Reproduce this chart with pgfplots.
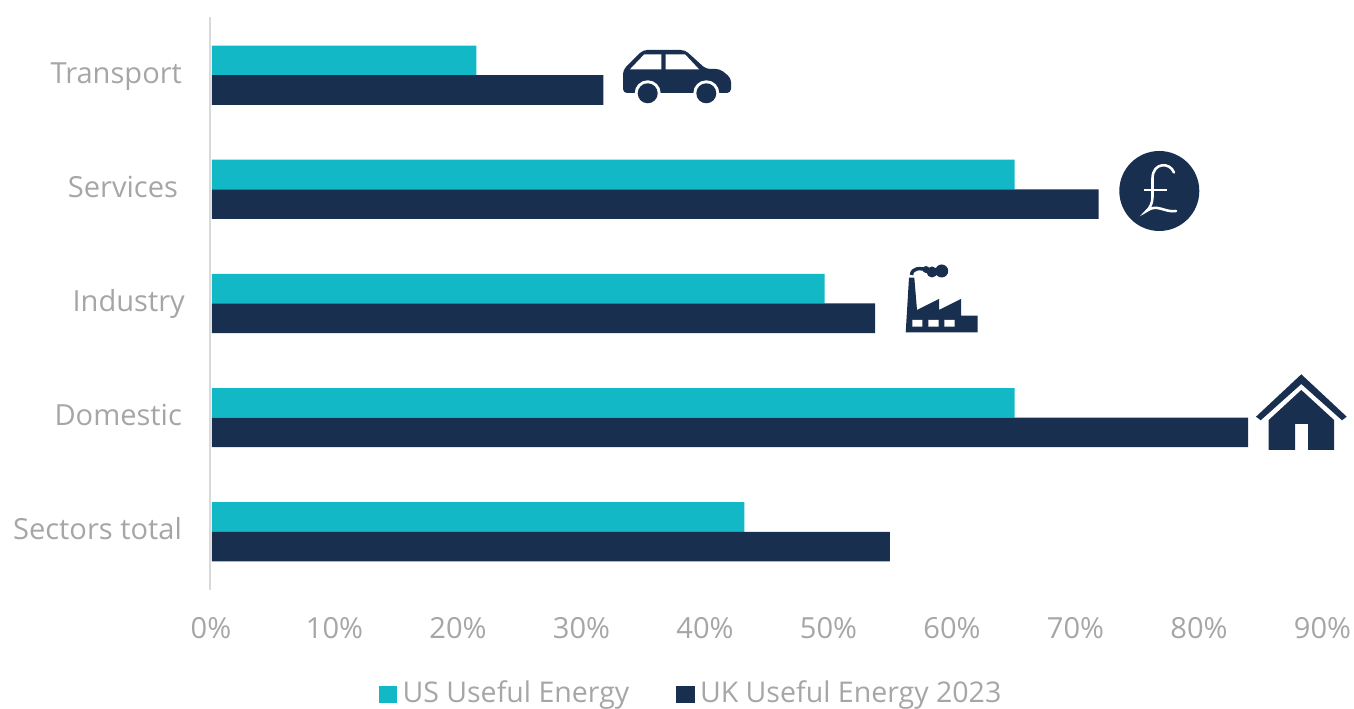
\documentclass[border=0pt]{standalone}
\usepackage{pgfplots}
\pgfplotsset{compat=1.18}
\usepackage{fontspec}
\setmainfont{Open Sans}
\definecolor{teal1}{HTML}{13B8C7}
\definecolor{navy1}{HTML}{182F50}
\definecolor{greytxt}{HTML}{A6A6A6}
\definecolor{axisl}{HTML}{D9D9D9}
\begin{document}
\begin{tikzpicture}
\useasboundingbox (0,0) rectangle (1015.5pt,531.75pt);
\begin{axis}[
  at={(159pt,89.25pt)}, anchor=south west,
  scale only axis, width=833.6pt, height=429.75pt,
  xmin=0, xmax=90, ymin=-0.51, ymax=4.51,
  xbar, bar width=22.2pt,
  separate axis lines,
  axis x line*=bottom, axis y line*=left,
  x axis line style={draw=none},
  y axis line style={draw=axisl, line width=1.5pt, -, xshift=-1.5pt},
  tick style={draw=none},
  xtick={0,10,...,90},
  xticklabels={0\%,10\%,20\%,30\%,40\%,50\%,60\%,70\%,80\%,90\%},
  ytick={0,1,2,3,4},
  yticklabels={Sectors total,Domestic,Industry\kern-2.2pt\null,Services\kern3pt\null,Transport},
  tick label style={font=\fontsize{21.8}{25}\selectfont, text=greytxt},
  xticklabel style={yshift=-17pt, xshift=-.75pt},
  yticklabel style={xshift=-14.75pt, yshift=.75pt, text height=16pt, text depth=2.5pt},
  legend style={draw=none, fill=none, at={(0.146,-0.179)}, anchor=west, legend columns=2,
    font=\fontsize{21.4}{24}\selectfont, text=greytxt,
    /tikz/every even column/.style={column sep=33pt}},
  legend image code/.code={\fill[#1] (0pt,-7.5pt) rectangle (14pt,5pt);},
]
\addplot[draw=none, fill=teal1, bar shift=11.1pt] coordinates {(43.1,0) (65,1) (49.6,2) (65,3) (21.4,4)};
\addplot[draw=none, fill=navy1, bar shift=-11.1pt] coordinates {(54.9,0) (83.9,1) (53.7,2) (71.8,3) (31.7,4)};
\legend{\kern2pt US Useful Energy,\kern2pt UK Useful Energy 2023}
\end{axis}
\begin{scope}[x=.75pt,y=-.75pt,shift={(0pt,531.75pt)}]
% car
\fill[navy1,rounded corners=3pt] (623,93) -- (623,70) -- (643,50) -- (685,50) -- (706,69) -- (720,69) -- (731,78) -- (731,93) -- cycle;
\fill[white] (647.7,93.3) circle[radius=13] (706.3,93.3) circle[radius=13];
\fill[white] (630,69.3) -- (644.3,54.3) -- (661.3,54.3) -- (661.3,69.3) -- cycle;
\fill[white] (665.7,54.3) -- (685,54.3) -- (699,69.3) -- (665.7,69.3) -- cycle;
\fill[white] (620,94) rectangle (735,110);
\fill[navy1] (647.7,93.3) circle[radius=10] (706.3,93.3) circle[radius=10];
% pound
\fill[navy1] (1159.3,191) circle[radius=40];
\draw[white,line width=1.9pt,line cap=round] (1174,172.5) .. controls (1170,162) and (1153,162) .. (1152.5,178) -- (1152.5,197) .. controls (1152.5,203) and (1150,208) .. (1146.5,211) .. controls (1157,203) and (1165,213) .. (1176,211);
\draw[white,line width=1.9pt] (1144,190) -- (1167.3,190);
% factory
\fill[navy1] (909,277.7) -- (914.3,277.7) -- (917,310) -- (939,299) -- (939,310) -- (961,299) -- (961,315.7) -- (977.7,315.7) -- (977.7,332.3) -- (905.7,332.3) -- cycle;
\fill[white] (912.3,320) rectangle (922.3,326.7) (928.3,320) rectangle (938.7,326.7) (944.3,320) rectangle (954.7,326.7);
\draw[navy1,line width=2.6pt] (911.5,275) .. controls (912,268) and (920,267) .. (929,271);
\fill[navy1] (941.7,271) circle[radius=6.5] (932,272) circle[radius=5.5] (926,269.5) circle[radius=3.5];
% house
\fill[navy1] (1301.3,374.3) -- (1346.7,416.7) -- (1342,420.3) -- (1301.3,384) -- (1260.7,420.3) -- (1256,416.7) -- cycle;
\fill[navy1] (1301.3,390) -- (1334,420) -- (1334,450) -- (1308,450) -- (1308,424) -- (1295,424) -- (1295,450) -- (1268.7,450) -- (1268.7,420) -- cycle;
\end{scope}
\end{tikzpicture}
\end{document}
